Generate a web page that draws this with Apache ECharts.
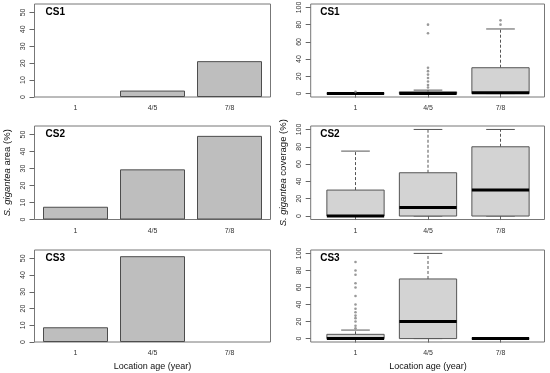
<!DOCTYPE html>
<html><head><meta charset="utf-8">
<script src="https://cdn.jsdelivr.net/npm/echarts@6/dist/echarts.min.js"></script>
<style>html,body{margin:0;padding:0;background:#fff}#c{width:550px;height:373px}</style>
</head><body><div id="c"></div>
<script>
// ---- data ----
const categories = ['1', '4/5', '7/8'];
const panelLabels = ['CS1', 'CS2', 'CS3'];
const areaCS1 = [0, 3.8, 21.2];
const areaCS2 = [7.5, 29.5, 49.2];
const areaCS3 = [8.8, 51.3, 0];
// boxplot stats: [lower whisker, Q1, median, Q3, upper whisker]
const coverCS1 = [[0, 0, 0, 0, 0], [0, 0, 0, 2, 4], [0, 0, 1, 30, 75]];
const coverCS2 = [[0, 0, 0, 30, 75], [0, 0, 10, 50, 100], [0, 0, 30, 80, 100]];
const coverCS3 = [[0, 0, 0, 5, 10], [0, 0, 20, 70, 100], [0, 0, 0, 0, 0]];
const outCS1 = [[2], [7, 10, 14, 18, 22, 26, 30, 70, 80], [80, 85]];
const outCS2 = [[], [], []];
const outCS3 = [[12, 15, 20, 24, 27, 31, 35, 40, 50, 60, 65, 75, 80, 90], [], []];
const areaTicks = [0, 10, 20, 30, 40, 50];
const coverTicks = [0, 20, 40, 60, 80, 100];
const yTitleLeft = '{i|S. gigantea} area (%)';
const yTitleRight = '{i|S. gigantea} coverage (%)';
const xTitle = 'Location age (year)';

// ---- layout ----
const FONT = '"Liberation Sans", Arial, sans-serif';
const rows = [{ top: 4, h: 93 }, { top: 126, h: 93.5 }, { top: 250, h: 92 }];
const L = { fx: 34.5, fw: 236, dx: 37, dw: 231 };
const R = { fx: 310.7, fw: 233.8, dx: 319.25, dw: 217.5 };
const areas = [areaCS1, areaCS2, areaCS3];
const covers = [coverCS1, coverCS2, coverCS3];
const outs = [outCS1, outCS2, outCS3];

const grid = [], xAxis = [], yAxis = [], series = [], title = [];
const tickLabel = { fontSize: 7, color: '#333', fontFamily: FONT };

function renderBox(params, api) {
  const i = api.value(0);
  const pLo = api.coord([i, api.value(1)]);
  const pQ1 = api.coord([i, api.value(2)]);
  const pMd = api.coord([i, api.value(3)]);
  const pQ3 = api.coord([i, api.value(4)]);
  const pHi = api.coord([i, api.value(5)]);
  const band = api.size([1, 0])[0];
  const bw = band * 0.79, sw = bw * 0.5;
  const cx = pMd[0];
  const dash = { stroke: '#555', lineWidth: 1, lineDash: [3, 2] };
  const solid = { stroke: '#555', lineWidth: 1 };
  return {
    type: 'group', children: [
      { type: 'line', shape: { x1: cx, y1: pQ3[1], x2: cx, y2: pHi[1] }, style: dash },
      { type: 'line', shape: { x1: cx, y1: pQ1[1], x2: cx, y2: pLo[1] }, style: dash },
      { type: 'line', shape: { x1: cx - sw / 2, y1: pHi[1], x2: cx + sw / 2, y2: pHi[1] }, style: solid },
      { type: 'line', shape: { x1: cx - sw / 2, y1: pLo[1], x2: cx + sw / 2, y2: pLo[1] }, style: solid },
      { type: 'rect', shape: { x: cx - bw / 2, y: pQ3[1], width: bw, height: pQ1[1] - pQ3[1] }, style: { fill: '#d3d3d3', stroke: '#555', lineWidth: 1 } },
      { type: 'line', shape: { x1: cx - bw / 2, y1: pMd[1], x2: cx + bw / 2, y2: pMd[1] }, style: { stroke: '#000', lineWidth: 3 } }
    ]
  };
}

rows.forEach((r, k) => {
  [L, R].forEach((P, side) => {
    const gF = grid.length;
    grid.push({ left: P.fx, top: r.top, width: P.fw, height: r.h, show: true, borderColor: '#777', borderWidth: 1, backgroundColor: 'transparent', containLabel: false, outerBoundsMode: 'none' });
    const gD = grid.length;
    grid.push({ left: P.dx, top: r.top, width: P.dw, height: r.h, show: false, containLabel: false, outerBoundsMode: 'none' });
    const isLeft = side === 0;
    const ymin = isLeft ? 0 : -4, ymax = isLeft ? 55 : 104;
    const ticks = isLeft ? areaTicks : coverTicks;
    // frame axes
    xAxis.push({ gridIndex: gF, type: 'value', min: 0, max: 1, show: false });
    const yF = {
      gridIndex: gF, type: 'value', min: ymin, max: ymax,
      axisLine: { show: false }, splitLine: { show: false },
      axisTick: { show: true, length: 5, lineStyle: { color: '#666' }, customValues: ticks },
      axisLabel: Object.assign({ rotate: 90, margin: 8, customValues: ticks }, tickLabel)
    };
    if (k === 1) {
      Object.assign(yF, {
        name: isLeft ? yTitleLeft : yTitleRight, nameLocation: 'middle', nameRotate: 90, nameGap: 22,
        nameTextStyle: { fontSize: 9.5, color: '#111', fontFamily: FONT, rich: { i: { fontStyle: 'italic', fontSize: 9.5, color: '#111', fontFamily: FONT } } }
      });
    }
    yAxis.push(yF);
    // data axes
    const xD = {
      gridIndex: gD, type: 'category', data: categories, boundaryGap: true,
      axisLine: { show: false }, splitLine: { show: false },
      axisTick: { show: !isLeft, alignWithLabel: true, length: 4, lineStyle: { color: '#666' } },
      axisLabel: Object.assign({ margin: 8, interval: 0 }, tickLabel)
    };
    if (k === 2) {
      Object.assign(xD, { name: xTitle, nameLocation: 'middle', nameGap: 20, nameTextStyle: { fontSize: 9, color: '#111', fontFamily: FONT } });
    }
    xAxis.push(xD);
    yAxis.push({ gridIndex: gD, type: 'value', min: ymin, max: ymax, show: false });
    const xi = xAxis.length - 1, yi = yAxis.length - 1;
    if (isLeft) {
      series.push({
        type: 'bar', xAxisIndex: xi, yAxisIndex: yi,
        data: areas[k].map(v => v === 0 ? { value: v, itemStyle: { borderWidth: 0 } } : v),
        barWidth: 65,
        itemStyle: { color: '#bebebe', borderColor: '#4d4d4d', borderWidth: 1 }, silent: true
      });
    } else {
      series.push({
        type: 'custom', xAxisIndex: xi, yAxisIndex: yi, renderItem: renderBox, clip: false,
        encode: { x: 0, y: [1, 2, 3, 4, 5] },
        data: covers[k].map((s, i) => [i].concat(s)), silent: true
      });
      const pts = [];
      outs[k].forEach((arr, i) => arr.forEach(v => pts.push([i, v])));
      series.push({
        type: 'scatter', xAxisIndex: xi, yAxisIndex: yi, data: pts, symbol: 'circle', symbolSize: 2.6,
        itemStyle: { color: '#808080' }, silent: true
      });
    }
    title.push({
      text: panelLabels[k], left: P.fx + (isLeft ? 11 : 9.5), top: r.top + 3, padding: 0,
      textStyle: { fontSize: 10, fontWeight: 'bold', color: '#000', fontFamily: FONT }
    });
  });
});

const chart = echarts.init(document.getElementById('c'), null, { renderer: 'canvas' });
chart.setOption({ backgroundColor: '#fff', animation: false, title, grid, xAxis, yAxis, series });
</script></body></html>
